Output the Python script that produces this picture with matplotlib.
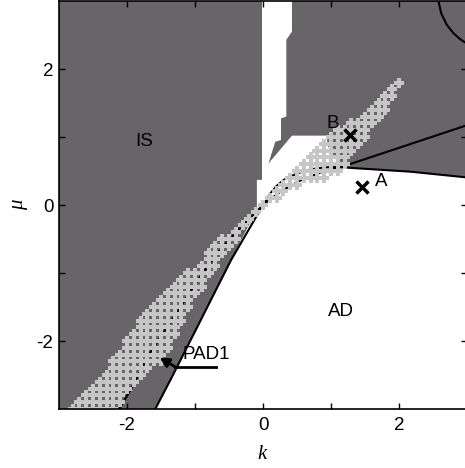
import numpy as np
import matplotlib
matplotlib.use("Agg")
import matplotlib.pyplot as plt
from matplotlib.patches import Polygon

# ---------------- data ----------------
# white (AD + connected) region outline
white_k  = [-0.015, 0.426, 0.426, 0.343, 0.343, 0.265, 0.265, 0.18, 0.08, 0.426, 0.94, 0.945,
            1.14, 2.17, 3.05, 3.05, -1.61, -1.37, -0.995, -0.48, -0.09, -0.09, -0.015]
white_mu = [3.05, 3.05, 2.55, 2.43, 1.30, 1.275, 0.956, 0.93, 0.61, 1.02, 1.02, 0.88,
            0.555, 0.49, 0.40, -3.05, -3.05, -2.58, -1.86, -0.83, -0.06, 0.37, 0.37]

# boundary curves
L1_k  = [-1.60, -1.36, -0.99, -0.47, 0.0]
L1_mu = [-3.03, -2.57, -1.84, -0.81, 0.0]
L2_k  = [-2.13, -1.95, -1.66, -1.26, -0.97, -0.68, -0.38, 0.0]
L2_mu = [-3.03, -2.72, -2.17, -1.57, -1.12, -0.72, -0.38, 0.0]
upper_k  = [0.0, 0.1, 0.2, 0.3, 0.4, 0.55, 0.7, 0.9, 1.14]
upper_mu = [0.0, 0.16, 0.28, 0.365, 0.42, 0.48, 0.525, 0.553, 0.56]
lower_k  = [0.0, 0.1, 0.25, 0.4, 0.55, 0.7, 0.85, 1.0, 1.14]
lower_mu = [0.0, 0.08, 0.19, 0.28, 0.36, 0.42, 0.48, 0.52, 0.555]
ray_up_k  = [1.14, 3.05]
ray_up_mu = [0.555, 1.19]
ray_lo_k  = [1.14, 2.17, 3.05]
ray_lo_mu = [0.555, 0.49, 0.40]
arc_k  = [2.57, 2.62, 2.70, 2.80, 2.90, 3.00, 3.06]
arc_mu = [3.05, 2.82, 2.655, 2.527, 2.438, 2.373, 2.34]

# band of grey markers (grid spacing 0.1), edges per mu
band_left_mu = [-3.0, -2.8, -2.47, -2.28, -2.03, -1.45, -1.15, -0.86, -0.66, -0.34, -0.07,
                0.17, 0.42, 0.71, 0.93, 1.15, 1.25, 1.5, 1.7, 1.8]
band_left_k  = [-2.78, -2.64, -2.34, -2.15, -2.02, -1.60, -1.24, -0.92, -0.75, -0.40, -0.14,
                0.20, 0.40, 0.70, 0.94, 1.14, 1.38, 1.73, 1.88, 1.97]
band_right_mu = [-3.0, -2.7, -2.45, -2.28, -1.88, -1.5, -1.05, -0.71, -0.37, -0.07, 0.17,
                 0.3, 0.4, 0.5, 0.6, 0.8, 1.0, 1.2, 1.45, 1.6, 1.8]
band_right_k  = [-2.15, -2.0, -1.71, -1.5, -1.29, -1.12, -0.82, -0.58, -0.31, -0.06, 0.30,
                 0.55, 0.90, 1.15, 1.20, 1.33, 1.48, 1.63, 1.82, 1.90, 2.02]
band_step = 0.1

point_A = (1.45, 0.26)
point_B = (1.28, 1.03)

ticks = [-2, -1, 0, 1, 2]
tick_labels = ['-2', '', '0', '', '2']

# ---------------- figure ----------------
GRAY = '#676567'
LIGHT = '#c6c6c6'
fig = plt.figure(figsize=(4.65, 4.68), dpi=100)
ax = fig.add_axes([59/465, 59/468, 408/465, 408/468])
ax.set_xlim(-3, 3)
ax.set_ylim(-3, 3)
ax.set_facecolor(GRAY)

ax.add_patch(Polygon(np.column_stack([white_k, white_mu]), closed=True,
                     facecolor='white', edgecolor='none', zorder=1))

lw = 1.5
for xs, ys in [(L1_k, L1_mu), (L2_k, L2_mu), (upper_k, upper_mu), (lower_k, lower_mu),
               (ray_up_k, ray_up_mu), (ray_lo_k, ray_lo_mu), (arc_k, arc_mu)]:
    ax.plot(xs, ys, color='black', lw=lw, zorder=2, solid_capstyle='butt')

# grid markers of the band
mk, mm = [], []
for j in range(-30, 19):
    m = j * band_step
    kl = np.interp(m, band_left_mu, band_left_k)
    kr = np.interp(m, band_right_mu, band_right_k)
    for i in range(-30, 31):
        kk = i * band_step
        if kl - 0.03 <= kk <= kr + 0.03:
            mk.append(kk)
            mm.append(m)
ax.plot(mk, mm, linestyle='none', marker='P', markersize=7.8, markeredgewidth=0,
        color=LIGHT, zorder=3)

ax.plot(*point_A, marker='x', color='black', markersize=9, mew=2.5, zorder=5)
ax.plot(*point_B, marker='x', color='black', markersize=9, mew=2.5, zorder=5)

tf = dict(family='Liberation Sans', fontsize=13.5, color='black', zorder=6)
ax.text(-1.745, 0.94, 'IS', ha='center', va='center', **tf)
ax.text(1.14, -1.56, 'AD', ha='center', va='center', **tf)
ax.text(1.03, 1.20, 'B', ha='center', va='center', **tf)
ax.text(1.74, 0.34, 'A', ha='center', va='center', **tf)
ax.text(-1.19, -2.20, 'PAD1', ha='left', va='center', **tf)
ax.plot([-1.29, -0.69], [-2.38, -2.38], color='black', lw=2, zorder=6)
ax.annotate('', xy=(-1.52, -2.245), xytext=(-1.29, -2.38),
            arrowprops=dict(arrowstyle='-|>,head_length=0.55,head_width=0.28',
                            color='black', lw=2, shrinkA=0, shrinkB=0), zorder=6)

ax.set_xticks(ticks)
ax.set_yticks(ticks)
ax.set_xticklabels(tick_labels, family='Liberation Sans', fontsize=13.5)
ax.set_yticklabels(tick_labels, family='Liberation Sans', fontsize=13.5)
ax.tick_params(direction='in', length=4, width=1, top=True, right=True, pad=4)
ax.tick_params(axis='x', pad=6)
for s in ax.spines.values():
    s.set_linewidth(1.2)
    s.set_zorder(7)

ax.set_xlabel('k', family='Liberation Serif', style='italic', fontsize=15)
ax.set_ylabel('μ', family='Liberation Serif', style='italic', fontsize=15, rotation=90)
ax.xaxis.set_label_coords(0.498, -0.088)
ax.yaxis.set_label_coords(-0.075, 0.5)

fig.savefig('out.png', dpi=100)
